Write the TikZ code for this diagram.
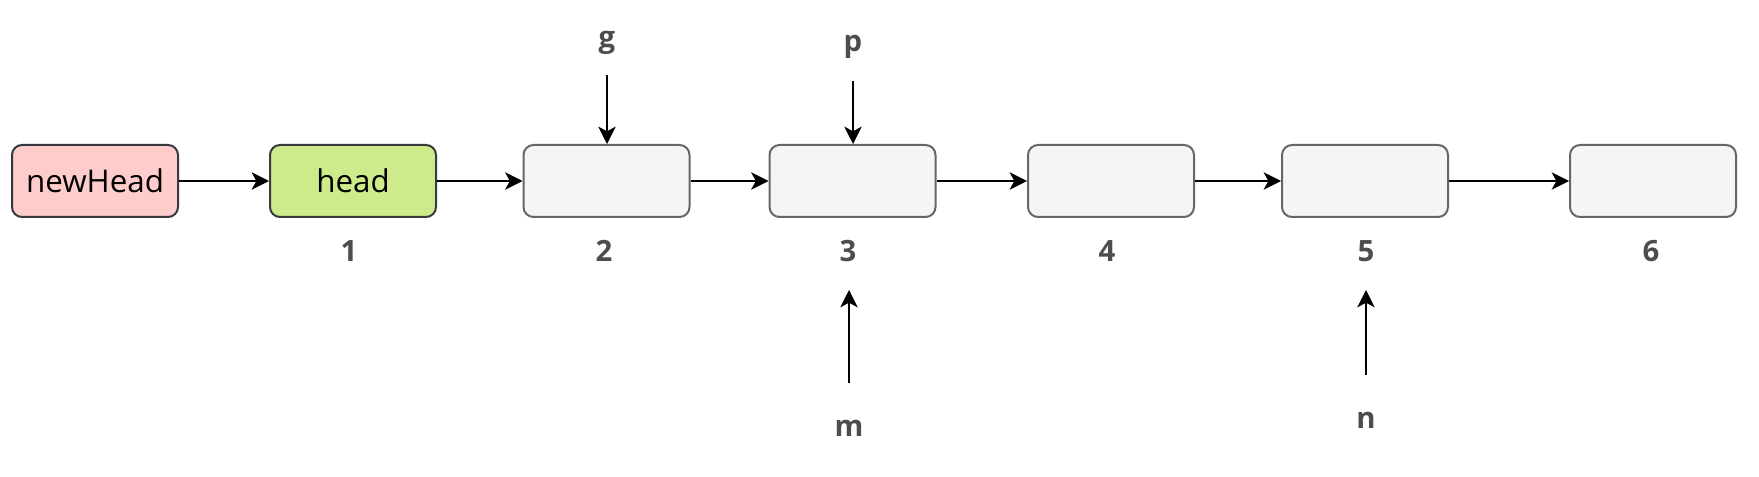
\documentclass[tikz,border=0pt]{standalone}
\usepackage{fontspec}
\setmainfont{Open Sans}
\usetikzlibrary{arrows.meta}
\definecolor{pinkfill}{HTML}{FFCCCC}
\definecolor{greenfill}{HTML}{CDEB8B}
\definecolor{grayfill}{HTML}{F5F5F5}
\definecolor{darkline}{HTML}{36393D}
\definecolor{grayline}{HTML}{666666}
\definecolor{labelgray}{HTML}{4D4D4D}
\tikzset{
  listbox/.style={draw=grayline, fill=grayfill, line width=1.5pt, rounded corners=7.5pt,
    minimum width=124.5pt, minimum height=54pt, inner sep=0pt,
    font=\fontsize{23.5}{26}\selectfont},
  pinkbox/.style={listbox, draw=darkline, fill=pinkfill},
  greenbox/.style={listbox, draw=darkline, fill=greenfill},
  idx/.style={text=labelgray, font=\bfseries\fontsize{22}{25}\selectfont, inner sep=0pt},
  arr/.style={-{Stealth[length=13pt,width=13pt,inset=3.5pt]}, line width=1.5pt, black}
}
\begin{document}
\begin{tikzpicture}[x=0.75pt,y=-0.75pt]
\useasboundingbox (0,0) rectangle (1759,477);
\node[pinkbox]  (nh) at (95,181) {newHead};
\node[greenbox] (b1) at (353,181) {head};
\node[listbox]  (b2) at (606.5,181) {};
\node[listbox]  (b3) at (852.5,181) {};
\node[listbox]  (b4) at (1111,181) {};
\node[listbox]  (b5) at (1365,181) {};
\node[listbox]  (b6) at (1653,181) {};
\node[idx] (l1) at (349,251) {1};
\node[idx] (l2) at (604,251) {2};
\node[idx] (l3) at (848,251) {3};
\node[idx] (l4) at (1107,251) {4};
\node[idx] (l5) at (1366,251) {5};
\node[idx] (l6) at (1651,251) {6};
\node[idx] (g) at (607,43) {g};
\node[idx] (p) at (853,47) {p};
\node[idx] (m) at (849,428) {m};
\node[idx] (n) at (1366,420) {n};
\coordinate (gs) at (607,75);
\coordinate (ps) at (853,81);
\coordinate (ms) at (849,383);
\coordinate (me) at (849,290);
\coordinate (ns) at (1366,375);
\coordinate (ne) at (1366,290);
\draw[arr] (nh) -- (b1);
\draw[arr] (b1) -- (b2);
\draw[arr] (b2) -- (b3);
\draw[arr] (b3) -- (b4);
\draw[arr] (b4) -- (b5);
\draw[arr] (b5) -- (b6);
\draw[arr] (gs) -- (gs |- b2.north);
\draw[arr] (ps) -- (ps |- b3.north);
\draw[arr] (ms) -- (me);
\draw[arr] (ns) -- (ne);
\end{tikzpicture}
\end{document}
